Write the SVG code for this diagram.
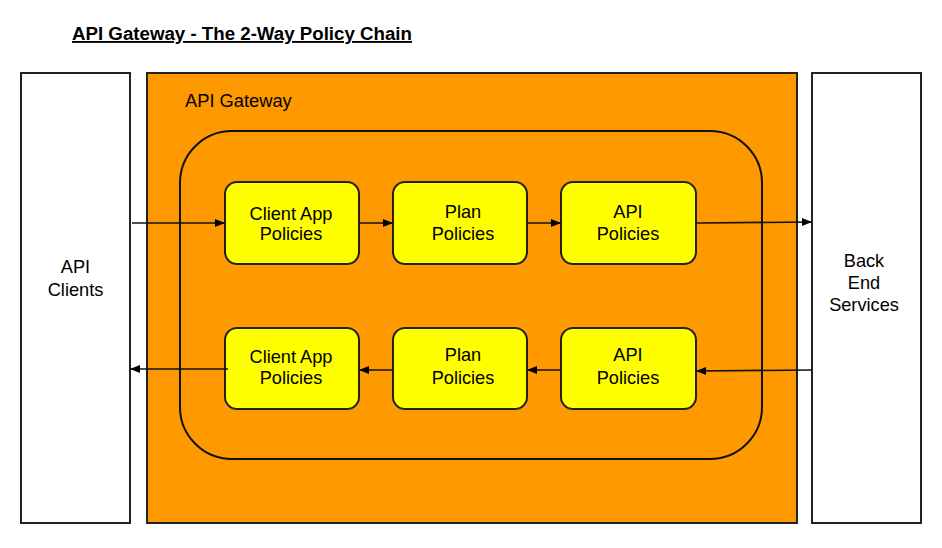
<svg xmlns="http://www.w3.org/2000/svg" width="942" height="548" viewBox="0 0 942 548">
<style>
text{font-family:"Liberation Sans",Arial,sans-serif;fill:#000}
.t{font-size:18.2px;text-anchor:middle}
.side{fill:#fff;stroke:#222;stroke-width:2}
.pol{fill:#ffff00;stroke:#222;stroke-width:2}
.c{stroke:#111;stroke-width:1.6;fill:none;marker-end:url(#ah)}
</style>
<defs>
<marker id="ah" viewBox="0 0 10 10" refX="10" refY="5" markerWidth="10" markerHeight="10" markerUnits="userSpaceOnUse" orient="auto">
<path d="M0,1 L10,5 L0,9 z" fill="#000"/>
</marker>
</defs>
<rect width="942" height="548" fill="#fff"/>
<text x="72" y="40" font-size="18.7" font-weight="bold" text-decoration="underline">API Gateway - The 2-Way Policy Chain</text>
<g id="clients">
<rect class="side" x="21" y="73" width="109" height="450"/>
<text class="t" x="75.5" y="273">API</text>
<text class="t" x="75.5" y="296">Clients</text>
</g>
<g id="gateway">
<rect x="147" y="73" width="650" height="450" fill="#ff9900" stroke="#222" stroke-width="2"/>
<text x="185" y="107" font-size="18.3">API Gateway</text>
<rect x="180" y="131" width="582" height="328" rx="52" ry="52" fill="none" stroke="#111" stroke-width="2"/>
</g>
<g id="backend">
<rect class="side" x="812" y="73" width="109" height="450"/>
<text class="t" x="864" y="267">Back</text>
<text class="t" x="864" y="289">End</text>
<text class="t" x="864" y="311">Services</text>
</g>
<g id="req-client">
<rect class="pol" x="225" y="182" width="134" height="82" rx="12"/>
<text class="t" x="291" y="220">Client App</text>
<text class="t" x="291" y="240">Policies</text>
</g>
<g id="req-plan">
<rect class="pol" x="393" y="182" width="134" height="82" rx="12"/>
<text class="t" x="463" y="218">Plan</text>
<text class="t" x="463" y="240">Policies</text>
</g>
<g id="req-api">
<rect class="pol" x="561" y="182" width="135" height="82" rx="12"/>
<text class="t" x="628" y="218">API</text>
<text class="t" x="628" y="240">Policies</text>
</g>
<g id="res-client">
<rect class="pol" x="225" y="328" width="134" height="81" rx="12"/>
<text class="t" x="291" y="363">Client App</text>
<text class="t" x="291" y="384">Policies</text>
</g>
<g id="res-plan">
<rect class="pol" x="393" y="328" width="134" height="81" rx="12"/>
<text class="t" x="463" y="361">Plan</text>
<text class="t" x="463" y="384">Policies</text>
</g>
<g id="res-api">
<rect class="pol" x="561" y="328" width="135" height="81" rx="12"/>
<text class="t" x="628" y="361">API</text>
<text class="t" x="628" y="384">Policies</text>
</g>
<g id="connectors">
<path class="c" d="M132,223 L225,223"/>
<path class="c" d="M359,223 L393,223"/>
<path class="c" d="M527,223 L561,223"/>
<path class="c" d="M696,223 L812,222"/>
<path class="c" d="M812,370 L696,371"/>
<path class="c" d="M561,370 L527,370"/>
<path class="c" d="M393,370 L359,370"/>
<path class="c" d="M228,369 L130,369"/>
</g>
</svg>
